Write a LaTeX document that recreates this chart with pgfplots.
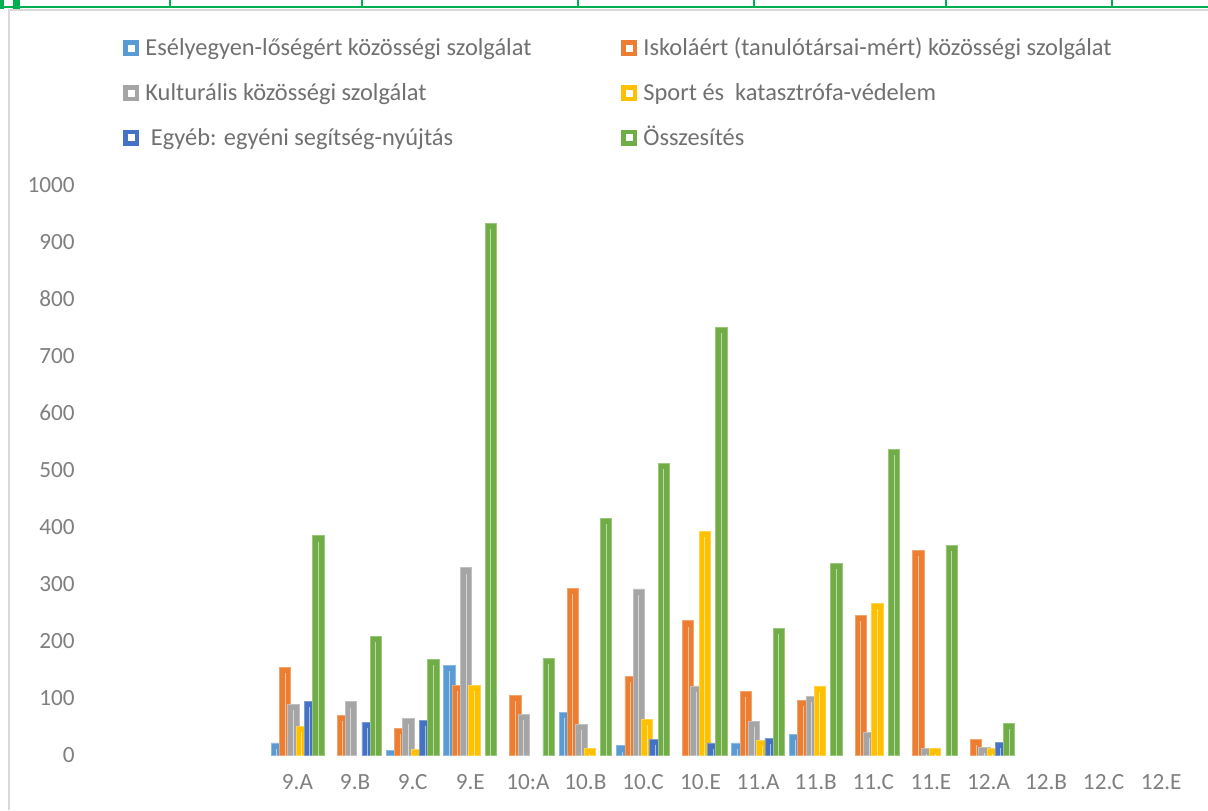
\documentclass[border=0pt]{standalone}
\usepackage{fontspec}
\setmainfont{Carlito}
\usepackage{pgfplots}
\pgfplotsset{compat=1.18}
\usepackage{pgfplotstable}

\definecolor{cBlue}{HTML}{5B9BD5}
\definecolor{cOrange}{HTML}{ED7D31}
\definecolor{cGray}{HTML}{A5A5A5}
\definecolor{cYellow}{HTML}{FFC000}
\definecolor{cDBlue}{HTML}{4472C4}
\definecolor{cGreen}{HTML}{70AD47}
\definecolor{tickgray}{HTML}{7F7F7F}
\definecolor{leggray}{HTML}{707070}
\definecolor{xlgreen}{HTML}{00B050}
\definecolor{bordergray}{HTML}{D9D9D9}

\pgfplotstableread{
x  v1  v2  v3  v4  v5  v6
0  22  154 89  51  95  385
1  nan 71  94  nan 58  209
2  9   48  65  10  62  168
3  158 123 329 123 nan 933
4  nan 106 72  nan nan 170
5  76  293 55  12  nan 416
6  17  139 292 63  28  512
7  nan 236 122 393 22  751
8  22  113 60  27  30  223
9  37  97  104 122 nan 337
10 nan 245 40  267 nan 537
11 nan 360 12  12  nan 368
12 nan 28  14  12  23  56
}\datatable

\newcommand{\legtext}[1]{\makebox[238pt][l]{#1}}

\begin{document}
\begin{tikzpicture}
\useasboundingbox (0,0) rectangle (604pt,405pt);
% spreadsheet decoration
\draw[bordergray, line width=0.6pt] (4.5pt,0) -- (4.5pt,400pt) -- (604pt,400pt);
\draw[xlgreen, line width=1.2pt] (0,401.5pt) -- (604pt,401.5pt);
\fill[xlgreen] (0,400.5pt) rectangle (2pt,405pt);
\fill[xlgreen] (6.5pt,400.5pt) rectangle (10pt,405pt);
\foreach \xx in {85,181,289,377,473,556} {
  \draw[xlgreen, line width=0.8pt] (\xx pt,401pt) -- (\xx pt,405pt);
}
\begin{axis}[
  at={(48pt,27.25pt)}, anchor=south west,
  scale only axis, width=547pt, height=285.25pt,
  xmin=-3.5, xmax=15.5, ymin=0, ymax=1000,
  ybar, bar width=0.196,
  ytick={0,100,...,1000},
  xtick={0,...,15},
  xticklabels={9.A,9.B,9.C,9.E,10:A,10.B,10.C,10.E,11.A,11.B,11.C,11.E,12.A,12.B,12.C,12.E},
  axis line style={draw=none},
  major tick length=0pt,
  /pgf/number format/1000 sep={},
  /pgf/number format/assume math mode=true,
  tick label style={font=\fontsize{11.6}{13}\selectfont, text=tickgray},
  yticklabel style={anchor=east, inner sep=0pt, xshift=-10.5pt},
  xticklabel style={anchor=center, inner sep=0pt, yshift=-13.25pt},
  legend columns=2,
  legend cell align=left,
  legend style={at={(0.0247,1.2585)}, anchor=north west, draw=none, fill=none,
    inner sep=0pt, row sep=10.9pt,
    font=\fontsize{12.2}{14}\selectfont, text=leggray,
    nodes={inner sep=0pt, text height=9pt, text depth=2.5pt},
    /tikz/every odd column/.append style={column sep=3pt}},
  legend image code/.code={
    \fill[#1, draw=none] (0pt,-3.3pt) rectangle (8pt,4.6pt);
    \fill[white] (2.5pt,-0.85pt) rectangle (5.5pt,2.15pt);
  },
]
\addplot[fill=cBlue, draw=cBlue!70!white, line width=0.4pt, bar shift=-0.36] table[x=x,y=v1]{\datatable};
\addlegendentry{\legtext{Esélyegyen-lőségért közösségi szolgálat}}
\addplot[fill=cOrange, draw=cOrange!70!white, line width=0.4pt, bar shift=-0.216] table[x=x,y=v2]{\datatable};
\addlegendentry{\legtext{Iskoláért (tanulótársai-mért) közösségi szolgálat}}
\addplot[fill=cGray, draw=cGray!70!white, line width=0.4pt, bar shift=-0.072] table[x=x,y=v3]{\datatable};
\addlegendentry{\legtext{Kulturális közösségi szolgálat}}
\addplot[fill=cYellow, draw=cYellow!70!white, line width=0.4pt, bar shift=0.072] table[x=x,y=v4]{\datatable};
\addlegendentry{\legtext{Sport és\ \ katasztrófa-védelem}}
\addplot[fill=cDBlue, draw=cDBlue!70!white, line width=0.4pt, bar shift=0.216] table[x=x,y=v5]{\datatable};
\addlegendentry{\legtext{\ Egyéb: egyéni segítség-nyújtás}}
\addplot[fill=cGreen, draw=cGreen!70!white, line width=0.4pt, bar shift=0.36] table[x=x,y=v6]{\datatable};
\addlegendentry{\legtext{Összesítés}}
% light centre stripes
\addplot[ycomb, forget plot, fill=none, draw=white, opacity=0.55, line width=0.5pt, restrict y to domain=0:2000] table[x expr=\thisrow{x}-0.36, y expr=\thisrow{v1}-10]{\datatable};
\addplot[ycomb, forget plot, fill=none, draw=white, opacity=0.55, line width=0.5pt, restrict y to domain=0:2000] table[x expr=\thisrow{x}-0.216, y expr=\thisrow{v2}-10]{\datatable};
\addplot[ycomb, forget plot, fill=none, draw=white, opacity=0.55, line width=0.5pt, restrict y to domain=0:2000] table[x expr=\thisrow{x}-0.072, y expr=\thisrow{v3}-10]{\datatable};
\addplot[ycomb, forget plot, fill=none, draw=white, opacity=0.55, line width=0.5pt, restrict y to domain=0:2000] table[x expr=\thisrow{x}+0.072, y expr=\thisrow{v4}-10]{\datatable};
\addplot[ycomb, forget plot, fill=none, draw=white, opacity=0.55, line width=0.5pt, restrict y to domain=0:2000] table[x expr=\thisrow{x}+0.216, y expr=\thisrow{v5}-10]{\datatable};
\addplot[ycomb, forget plot, fill=none, draw=white, opacity=0.55, line width=0.5pt, restrict y to domain=0:2000] table[x expr=\thisrow{x}+0.36, y expr=\thisrow{v6}-10]{\datatable};
\end{axis}
\end{tikzpicture}
\end{document}
